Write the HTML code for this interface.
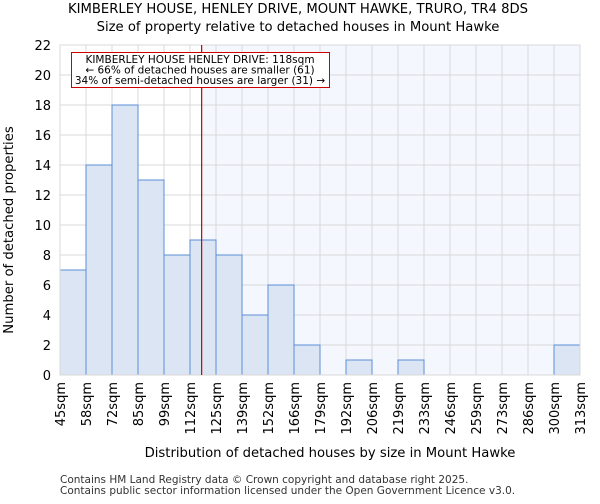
<!DOCTYPE html>
<html><head><meta charset="utf-8"><style>
body{margin:0;background:#fff;font-family:"DejaVu Sans","Liberation Sans",sans-serif;}
</style></head><body>
<svg id="chart" width="600" height="500" xmlns="http://www.w3.org/2000/svg" font-family="DejaVu Sans, Liberation Sans, sans-serif">
<text x="298" y="13" text-anchor="middle" font-size="13.2">KIMBERLEY HOUSE, HENLEY DRIVE, MOUNT HAWKE, TRURO, TR4 8DS</text>
<text x="298" y="31" text-anchor="middle" font-size="13.2">Size of property relative to detached houses in Mount Hawke</text>
<g id="plot"></g>
<text x="330" y="457" text-anchor="middle" font-size="13.2">Distribution of detached houses by size in Mount Hawke</text>
<text transform="translate(13,230) rotate(-90)" text-anchor="middle" font-size="13.2">Number of detached properties</text>
<text x="60" y="483" font-size="10.5" fill="#333">Contains HM Land Registry data © Crown copyright and database right 2025.</text>
<text x="60" y="494" font-size="10.5" fill="#333">Contains public sector information licensed under the Open Government Licence v3.0.</text>
</svg>
<script>
const categories=["45sqm","58sqm","72sqm","85sqm","99sqm","112sqm","125sqm","139sqm","152sqm","166sqm","179sqm","192sqm","206sqm","219sqm","233sqm","246sqm","259sqm","273sqm","286sqm","300sqm","313sqm"];
const counts=[7,14,18,13,8,9,8,4,6,2,0,1,0,1,0,0,0,0,0,2];
const yTicks=[0,2,4,6,8,10,12,14,16,18,20,22];
const binStart=45, binWidth=13.4;
const propertySize=118;
const L=60,R=580,T=45,B=375,yMax=22;
const NS="http://www.w3.org/2000/svg";
const g=document.getElementById('plot');
const n=counts.length;
const xb=i=>L+(R-L)*i/n;
const xv=v=>L+(v-binStart)/(binWidth*n)*(R-L);
const y=v=>B-(B-T)*v/yMax;
function mk(t,a){const e=document.createElementNS(NS,t);for(const k in a)e.setAttribute(k,a[k]);g.appendChild(e);return e;}
const px=xv(propertySize);
let e=mk('rect',{x:px,y:T,width:R-px,height:B-T,fill:'#f4f7fe'});


for(let i=0;i<=n;i++){e=mk('line',{x1:xb(i),x2:xb(i),y1:T,y2:B,stroke:'#d8d8d8'});

}
yTicks.forEach(t=>{e=mk('line',{x1:L,x2:R,y1:y(t),y2:y(t),stroke:'#d8d8d8'});


e=mk('text',{x:L-9,y:y(t)+5,'text-anchor':'end','font-size':13});e.textContent=t;

});
counts.forEach((c,i)=>{if(c<=0)return;e=mk('rect',{x:xb(i),y:y(c),width:xb(i+1)-xb(i),height:B-y(c),fill:'#dbe5f4',stroke:'#5b8fd6','stroke-width':1});

});
categories.forEach((c,i)=>{e=mk('text',{transform:`translate(${xb(i)+5},382) rotate(-90)`,'text-anchor':'end','font-size':13});e.textContent=c;

});
e=mk('rect',{x:L,y:T,width:R-L,height:B-T,fill:'none',stroke:'#d8d8d8'});


e=mk('line',{x1:px,x2:px,y1:T,y2:B,stroke:'#cc0000','stroke-width':1.2});


e=mk('rect',{x:71.5,y:52.5,width:258,height:35,fill:'#fff',stroke:'#cc0000'});


["KIMBERLEY HOUSE HENLEY DRIVE: 118sqm","← 66% of detached houses are smaller (61)","34% of semi-detached houses are larger (31) →"].forEach((s,i)=>{
e=mk('text',{x:200,y:63+i*10.5,'text-anchor':'middle','font-size':10.5});e.textContent=s;

});
</script>
</body></html>
